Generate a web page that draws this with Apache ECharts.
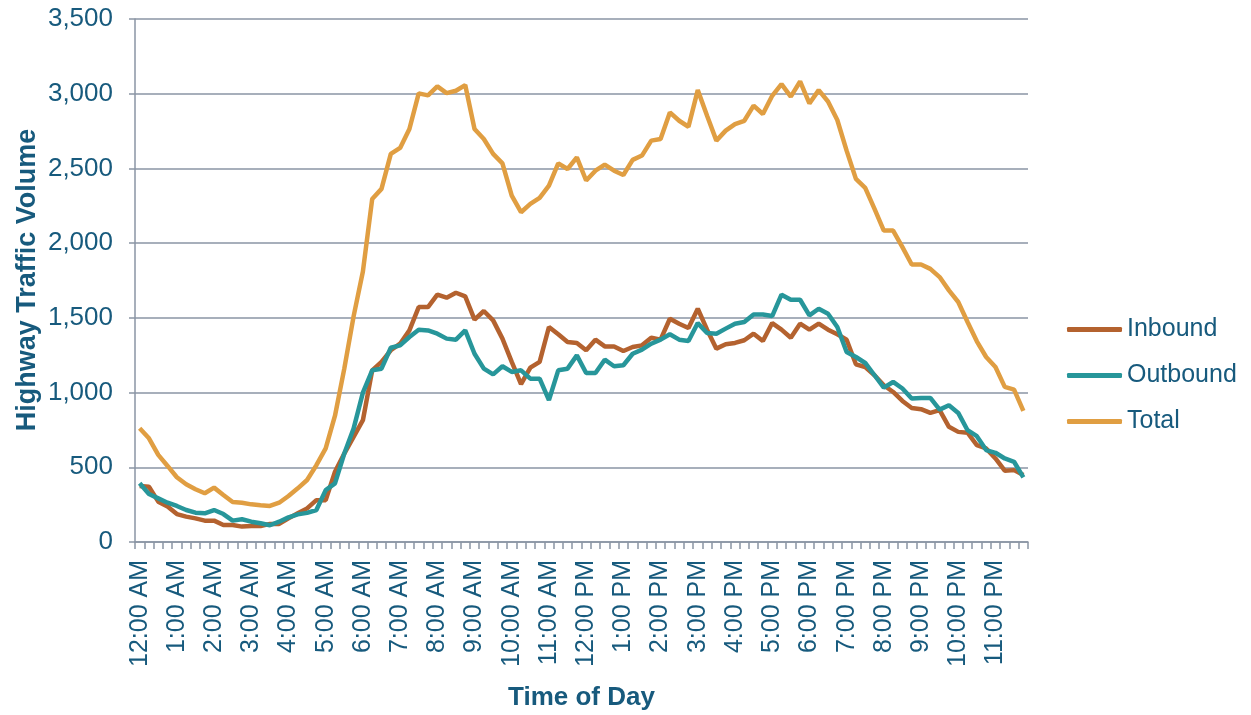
<!DOCTYPE html>
<html>
<head>
<meta charset="utf-8">
<script src="https://cdn.jsdelivr.net/npm/echarts@6/dist/echarts.min.js"></script>
<style>
html,body{margin:0;padding:0;background:#fff;}
#chart{width:1251px;height:715px;}
</style>
</head>
<body>
<div id="chart"></div>
<script>
// Hour tick labels (one every 4 quarter-hour categories)
var hourLabels = ["12:00 AM","1:00 AM","2:00 AM","3:00 AM","4:00 AM","5:00 AM","6:00 AM","7:00 AM","8:00 AM","9:00 AM","10:00 AM","11:00 AM",
  "12:00 PM","1:00 PM","2:00 PM","3:00 PM","4:00 PM","5:00 PM","6:00 PM","7:00 PM","8:00 PM","9:00 PM","10:00 PM","11:00 PM"];
var quarterMinutes = ["00","15","30","45"];

// 15-minute traffic volumes
var inbound = [375,370,270,237,187,170,158,143,143,114,114,103,107,107,121,121,158,192,225,280,280,470,592,704,
  815,1149,1205,1283,1327,1416,1572,1572,1655,1635,1668,1644,1488,1546,1483,1361,1205,1056,1167,1205,
  1439,1390,1338,1332,1283,1354,1309,1309,1278,1305,1316,1367,1354,1494,1461,1432,1561,1421,1294,1323,
  1332,1350,1394,1345,1465,1421,1367,1461,1421,1461,1421,1390,1354,1189,1171,1116,1049,1004,944,897,
  889,864,882,771,737,731,648,626,559,477,481,448];
var outbound = [393,321,292,263,241,214,196,192,214,187,143,152,136,125,112,136,165,185,195,214,347,392,592,759,
  1000,1149,1160,1300,1316,1372,1421,1416,1394,1361,1354,1416,1260,1160,1122,1176,1138,1149,1093,1093,
  949,1149,1160,1249,1131,1131,1220,1176,1183,1260,1287,1327,1354,1390,1354,1345,1465,1399,1394,1428,
  1461,1472,1523,1523,1512,1655,1621,1621,1517,1561,1528,1439,1272,1238,1198,1116,1033,1071,1027,960,
  964,964,886,915,864,748,708,615,597,559,537,432];
var total = [761,694,583,509,433,386,353,326,364,315,268,263,252,246,241,263,308,359,415,514,626,845,1160,1510,
  1810,2296,2363,2597,2637,2764,3002,2989,3049,3004,3020,3058,2764,2697,2597,2534,2318,2207,2263,2303,
  2385,2534,2496,2574,2419,2485,2525,2485,2456,2557,2586,2686,2697,2875,2819,2779,3024,2853,2686,2753,
  2797,2819,2920,2864,2986,3064,2980,3082,2935,3024,2948,2824,2619,2430,2370,2229,2084,2084,1973,1857,
  1857,1828,1773,1684,1606,1472,1343,1238,1171,1038,1020,877];

var categories = [];
hourLabels.forEach(function (h) {
  var parts = h.split(" ");
  var hm = parts[0].split(":");
  quarterMinutes.forEach(function (m) { categories.push(hm[0] + ":" + m + " " + parts[1]); });
});

var textColor = "#175A7D";
var gridColor = "#8A95A4";
var FONT = "'Liberation Sans', Arial, sans-serif";

var chart = echarts.init(document.getElementById("chart"), null, {renderer: "canvas"});
chart.setOption({
  animation: false,
  backgroundColor: "#ffffff",
  grid: {left: 135, right: 223, top: 19, bottom: 173, containLabel: false, outerBoundsMode: "none"},
  graphic: [{
    type: "text",
    x: 28,
    y: 280,
    rotation: Math.PI / 2,
    style: {
      text: "Highway Traffic Volume",
      fill: textColor,
      font: "bold 27px 'Liberation Sans', Arial, sans-serif",
      textAlign: "center",
      textVerticalAlign: "middle"
    }
  }],
  legend: {
    orient: "vertical",
    left: 1067,
    top: 317,
    padding: 0,
    itemWidth: 55,
    itemHeight: 5,
    itemGap: 21,
    icon: "roundRect",
    textStyle: {color: textColor, fontSize: 25, fontFamily: FONT},
    data: ["Inbound", "Outbound", "Total"]
  },
  xAxis: {
    type: "category",
    data: categories,
    boundaryGap: true,
    name: "Time of Day",
    nameLocation: "middle",
    nameGap: 143,
    nameTextStyle: {color: textColor, fontSize: 26, fontWeight: "bold", fontFamily: FONT},
    axisLine: {lineStyle: {color: gridColor, width: 1.5}},
    axisTick: {show: true, interval: 0, length: 7, lineStyle: {color: gridColor, width: 1.5}},
    axisLabel: {interval: 3, rotate: 90, margin: 18, color: textColor, fontSize: 25, fontFamily: FONT},
    splitLine: {show: false}
  },
  yAxis: {
    type: "value",
    min: 0,
    max: 3500,
    interval: 500,
    axisLine: {show: true, lineStyle: {color: gridColor, width: 1.5}},
    axisTick: {show: true, length: 6, lineStyle: {color: gridColor, width: 1.5}},
    axisLabel: {
      margin: 22, color: textColor, fontSize: 26, fontFamily: FONT,
      formatter: function (v) { return v.toString().replace(/\B(?=(\d{3})+(?!\d))/g, ","); }
    },
    splitLine: {show: true, lineStyle: {color: gridColor, width: 1.5}}
  },
  series: [
    {name: "Inbound", type: "line", data: inbound, showSymbol: false, symbol: "none",
      lineStyle: {color: "#B4622F", width: 4.5}, itemStyle: {color: "#B4622F"}},
    {name: "Outbound", type: "line", data: outbound, showSymbol: false, symbol: "none",
      lineStyle: {color: "#27969A", width: 4.5}, itemStyle: {color: "#27969A"}},
    {name: "Total", type: "line", data: total, showSymbol: false, symbol: "none",
      lineStyle: {color: "#E09E42", width: 4.5}, itemStyle: {color: "#E09E42"}}
  ]
});
</script>
</body>
</html>
